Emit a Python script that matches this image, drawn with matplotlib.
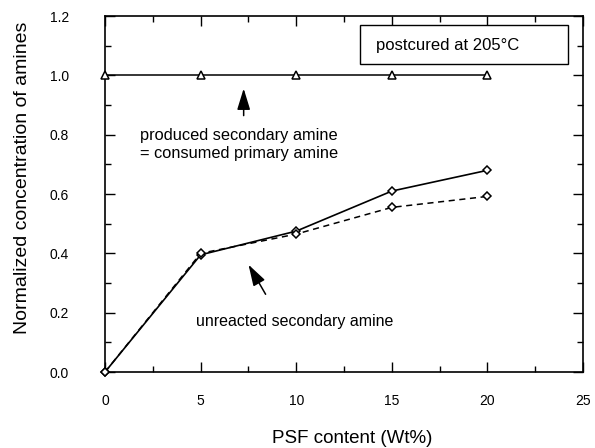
import matplotlib
matplotlib.use("Agg")
import matplotlib.pyplot as plt
from matplotlib.patches import Rectangle
from matplotlib.ticker import MultipleLocator

plt.rc("font", family=["Liberation Sans", "DejaVu Sans"])

# PSF loading (wt%) and normalized amine concentrations
psf = [0, 5, 10, 15, 20]
produced_secondary = [1.0, 1.0, 1.0, 1.0, 1.0]
unreacted_solid = [0.0, 0.395, 0.475, 0.61, 0.68]
unreacted_dashed = [0.0, 0.40, 0.465, 0.555, 0.592]

fig = plt.figure(figsize=(5.95, 4.48), dpi=100)
ax = fig.add_axes([0.1765, 0.1696, 0.8035, 0.7946])

ax.plot(psf, produced_secondary, "-", color="black", lw=1.1, marker="^",
        markersize=5.5, markerfacecolor="white", markeredgewidth=1.1, clip_on=False, zorder=3)
ax.plot(psf, unreacted_solid, "-", color="black", lw=1.2, marker="D",
        markersize=4.5, markerfacecolor="white", markeredgewidth=1.1, clip_on=False, zorder=3)
ax.plot(psf, unreacted_dashed, "--", color="black", lw=1.1, marker="D", dashes=(4, 3),
        markersize=4.5, markerfacecolor="white", markeredgewidth=1.1, clip_on=False, zorder=3)

ax.set_xlim(0, 25)
ax.set_ylim(0, 1.2)
ax.xaxis.set_major_locator(MultipleLocator(5))
ax.xaxis.set_minor_locator(MultipleLocator(2.5))
ax.yaxis.set_major_locator(MultipleLocator(0.2))
ax.yaxis.set_minor_locator(MultipleLocator(0.1))
ax.yaxis.set_major_formatter(plt.FormatStrFormatter("%.1f"))
ax.tick_params(which="both", direction="in", top=True, right=True, labelsize=10, width=1)
ax.tick_params(which="major", length=7)
ax.tick_params(which="minor", length=4)
ax.tick_params(axis="x", which="major", pad=16)
ax.tick_params(axis="y", which="major", pad=26)
for s in ax.spines.values():
    s.set_linewidth(1.2)

ax.set_xlabel("PSF content (Wt%)", fontsize=13.5, labelpad=16, x=0.517)
ax.set_ylabel("Normalized concentration of amines", fontsize=14)
ax.yaxis.set_label_coords(-0.155, 0.545)

# label box in the upper right corner
ax.add_patch(Rectangle((13.35, 1.037), 10.85, 0.132, facecolor="white",
                       edgecolor="black", lw=1, zorder=4))
ax.text(14.15, 1.102, "postcured at 205°C", fontsize=12, va="center", ha="left", zorder=5)

arrow = dict(arrowstyle="-|>,head_length=1.3,head_width=0.4", color="black", lw=1.1)
ax.annotate("", xy=(7.25, 0.965), xytext=(7.25, 0.855), arrowprops=arrow)
ax.text(1.85, 0.766, "produced secondary amine\n= consumed primary amine", fontsize=11.8,
        va="center", ha="left", linespacing=1.25)

ax.annotate("", xy=(7.43, 0.37), xytext=(8.47, 0.254), arrowprops=arrow)
ax.text(4.76, 0.17, "unreacted secondary amine", fontsize=11.5, va="center", ha="left")

fig.savefig("out.png", dpi=100)
